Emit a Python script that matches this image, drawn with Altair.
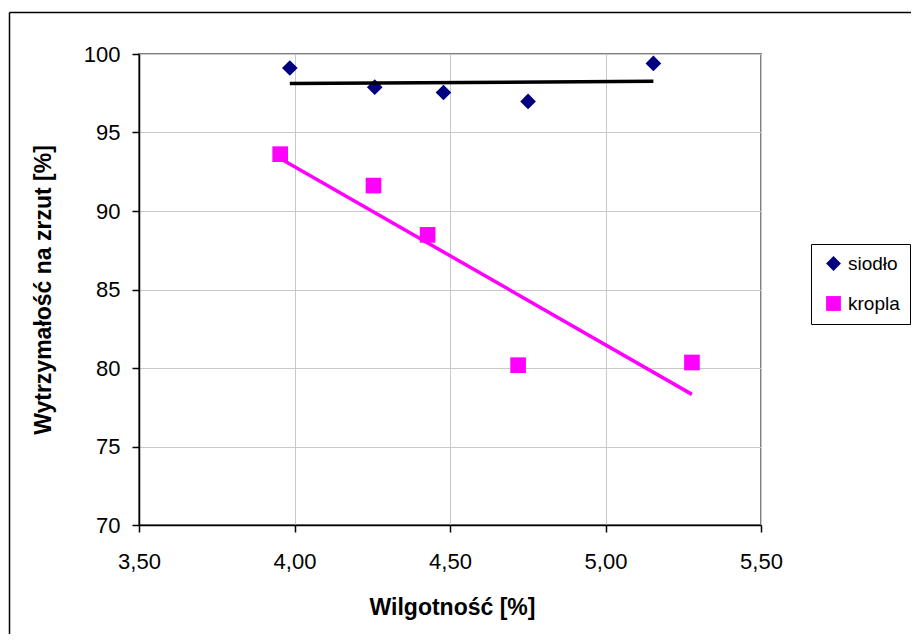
import altair as alt
import pandas as pd

# --- data ---
series_names = ["siodło", "kropla"]
siodlo_x = [3.985, 4.258, 4.479, 4.751, 5.154]
siodlo_y = [99.11, 97.89, 97.55, 96.98, 99.40]
kropla_x = [3.954, 4.254, 4.428, 4.719, 5.278]
kropla_y = [93.62, 91.62, 88.48, 80.18, 80.35]
x_ticks = [3.5, 4.0, 4.5, 5.0, 5.5]
y_ticks = [70, 75, 80, 85, 90, 95, 100]

df = pd.DataFrame({
    "x": siodlo_x + kropla_x,
    "y": siodlo_y + kropla_y,
    "series": [series_names[0]] * len(siodlo_x) + [series_names[1]] * len(kropla_x),
})

FONT = "Liberation Sans"
W, H = 622, 471
PAD_L, PAD_T = 131, 46
TOTAL_W, TOTAL_H = 903, 626

xscale = alt.Scale(domain=[3.5, 5.5], nice=False, zero=False)
yscale = alt.Scale(domain=[70, 100], nice=False, zero=False)

xaxis = alt.Axis(
    values=x_ticks,
    labelExpr="replace(format(datum.value, '.2f'), '.', ',')",
    title="Wilgotność [%]",
    titleX=313, titleY=89.5, titleBaseline="alphabetic", titleAlign="center",
    labelPadding=19, tickSize=7, labelFlush=False, labelOverlap=False,
)
yaxis = alt.Axis(
    values=y_ticks,
    title="Wytrzymałość na zrzut [%]",
    titleX=-88.5, titleY=H / 2, titleAngle=-90, titleBaseline="alphabetic", titleAlign="center",
    labelPadding=12, tickSize=7, labelFlush=False, labelOverlap=False,
)

base = alt.Chart(df)

legend = alt.Legend(title=None, orient="none", legendX=672, legendY=190)

points = base.mark_point(filled=True, size=245, opacity=1).encode(
    x=alt.X("x:Q", scale=xscale, axis=xaxis),
    y=alt.Y("y:Q", scale=yscale, axis=yaxis),
    color=alt.Color("series:N",
                    scale=alt.Scale(domain=series_names, range=["#000080", "#FF00FF"]),
                    legend=legend),
    shape=alt.Shape("series:N",
                    scale=alt.Scale(domain=series_names, range=["diamond", "square"]),
                    legend=legend),
)

trend_s = base.transform_filter(alt.datum.series == series_names[0]).transform_regression(
    "x", "y").mark_line(color="black", strokeWidth=3.5).encode(
    x=alt.X("x:Q", scale=xscale), y=alt.Y("y:Q", scale=yscale))

trend_k = base.transform_filter(alt.datum.series == series_names[1]).transform_regression(
    "x", "y").mark_line(color="#FF00FF", strokeWidth=3.5).encode(
    x=alt.X("x:Q", scale=xscale), y=alt.Y("y:Q", scale=yscale))

# outer chart frame (left and top edges visible in the reference)
frame_left = alt.Chart(pd.DataFrame({"a": [0]})).mark_rule(color="black", strokeWidth=1.5).encode(
    x=alt.value(-129.5), y=alt.value(-41.5), y2=alt.value(TOTAL_H - PAD_T))
frame_top = alt.Chart(pd.DataFrame({"a": [0]})).mark_rule(color="black", strokeWidth=1.5).encode(
    x=alt.value(-129.5), x2=alt.value(TOTAL_W - PAD_L), y=alt.value(-41.5))

chart = alt.layer(points, trend_s, trend_k, frame_left, frame_top).properties(
    width=W, height=H,
    autosize=alt.AutoSizeParams(type="none"),
    padding={"left": PAD_L, "top": PAD_T, "right": TOTAL_W - PAD_L - W, "bottom": TOTAL_H - PAD_T - H},
    background="white",
).configure_view(
    stroke="#808080", strokeWidth=2,
).configure_axis(
    labelFont=FONT, labelFontSize=22, labelColor="black",
    titleFont=FONT, titleFontSize=23, titleFontWeight="bold", titleColor="black",
    domainColor="black", domainWidth=1.5,
    tickColor="black", tickWidth=1.5,
    gridColor="#c8c8c8", gridWidth=1,
).configure_legend(
    labelFont=FONT, labelFontSize=19, labelColor="black",
    strokeColor="black", strokeWidth=1, fillColor="white",
    padding=10, rowPadding=20, symbolSize=220, symbolOffset=3,
    labelOffset=5, cornerRadius=0, symbolStrokeWidth=0,
)

chart.save("out.html", embed_options={"renderer": "svg", "actions": False})
